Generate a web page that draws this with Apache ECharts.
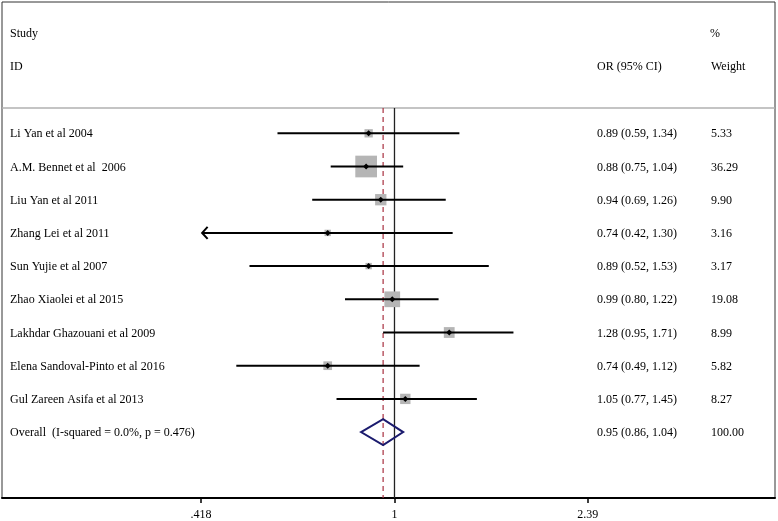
<!DOCTYPE html>
<html>
<head>
<meta charset="utf-8">
<script src="https://cdn.jsdelivr.net/npm/echarts@6/dist/echarts.min.js"></script>
<style>html,body{margin:0;padding:0;background:#fff}#chart{width:778px;height:521px}</style>
</head>
<body>
<div id="chart"></div>
<script>
const studies = [
  'Li Yan et al 2004',
  'A.M. Bennet et al  2006',
  'Liu Yan et al 2011',
  'Zhang Lei et al 2011',
  'Sun Yujie et al 2007',
  'Zhao Xiaolei et al 2015',
  'Lakhdar Ghazouani et al 2009',
  'Elena Sandoval-Pinto et al 2016',
  'Gul Zareen Asifa et al 2013'
];
const orValues = [0.89, 0.88, 0.94, 0.74, 0.89, 0.99, 1.28, 0.74, 1.05];
const ciLower  = [0.59, 0.75, 0.69, 0.42, 0.52, 0.80, 0.95, 0.49, 0.77];
const ciUpper  = [1.34, 1.04, 1.26, 1.30, 1.53, 1.22, 1.71, 1.12, 1.45];
const weights  = [5.33, 36.29, 9.90, 3.16, 3.17, 19.08, 8.99, 5.82, 8.27];
const overallLabel = 'Overall  (I-squared = 0.0%, p = 0.476)';
const overallOR = 0.95, overallLower = 0.86, overallUpper = 1.04, overallWeight = 100.00;
const tickValues = [0.418, 1, 2.39];
const tickLabels = ['.418', '1', '2.39'];
const displayMin = 0.42;
const headerStudy = 'Study', headerID = 'ID', headerOR = 'OR (95% CI)', headerPct = '%', headerWeight = 'Weight';

const FONT = '"Liberation Serif", "Times New Roman", serif';
const xMin = -1.770, xMax = 1.716;
const yMin = -3.955, yMax = 10.985;
const yRule = -0.76;
const LN = Math.log;

const rows = studies.map((s, i) => [i, orValues[i], ciLower[i], ciUpper[i], weights[i]]);
const fmt = v => v.toFixed(2);

const chart = echarts.init(document.getElementById('chart'));
chart.setOption({
  animation: false,
  grid: { left: 2, right: 3, top: 2, bottom: 23, show: true, borderColor: '#333', borderWidth: 1 },
  xAxis: {
    type: 'value', min: xMin, max: xMax,
    axisLine: { show: true, onZero: false, lineStyle: { color: '#000', width: 2 } },
    axisTick: { show: true, length: 5, customValues: tickValues.map(LN), lineStyle: { color: '#000', width: 1.5 } },
    axisLabel: {
      customValues: tickValues.map(LN), margin: 11, fontFamily: FONT, fontSize: 12, color: '#000',
      formatter: v => { const k = tickValues.findIndex(t => Math.abs(LN(t) - v) < 1e-6); return k >= 0 ? tickLabels[k] : ''; }
    },
    splitLine: { show: false }
  },
  yAxis: { type: 'value', inverse: true, min: yMin, max: yMax, show: false, splitLine: { show: false } },
  graphic: [
    { type: 'text', left: 10, top: 28, style: { text: headerStudy, font: '12px ' + FONT, fill: '#000' } },
    { type: 'text', left: 10, top: 61, style: { text: headerID, font: '12px ' + FONT, fill: '#000' } },
    { type: 'text', left: 597, top: 61, style: { text: headerOR, font: '12px ' + FONT, fill: '#000' } },
    { type: 'text', left: 710, top: 28, style: { text: headerPct, font: '12px ' + FONT, fill: '#000' } },
    { type: 'text', left: 711, top: 61, style: { text: headerWeight, font: '12px ' + FONT, fill: '#000' } }
  ],
  series: [
    {
      type: 'custom', z: 1, clip: false, data: [[LN(overallOR)]],
      renderItem: (params, api) => {
        const a = api.coord([xMin, yRule]), b = api.coord([xMax, yRule]);
        const n1 = api.coord([0, yRule]), n2 = api.coord([0, yMax]);
        const r1 = api.coord([api.value(0), yRule]), r2 = api.coord([api.value(0), yMax]);
        return { type: 'group', children: [
          { type: 'line', shape: { x1: a[0], y1: a[1], x2: b[0], y2: b[1] }, style: { stroke: '#b0b0b0', lineWidth: 1.5 } },
          { type: 'line', shape: { x1: n1[0], y1: n1[1], x2: n2[0], y2: n2[1] }, style: { stroke: '#222', lineWidth: 1.3 } },
          { type: 'line', shape: { x1: r1[0], y1: r1[1], x2: r2[0], y2: r2[1] }, style: { stroke: '#a8303f', lineWidth: 1.2, lineDash: [5, 4] } }
        ] };
      }
    },
    {
      type: 'custom', z: 3, clip: false, data: rows,
      renderItem: (params, api) => {
        const i = api.value(0), or = api.value(1), lo = api.value(2), hi = api.value(3), w = api.value(4);
        const c = api.coord([LN(or), i]);
        const pLo = api.coord([LN(lo), i]);
        const pHi = api.coord([LN(hi), i]);
        const side = 3.6 * Math.sqrt(w);
        const y = c[1];
        const children = [
          { type: 'rect', shape: { x: c[0] - side / 2, y: y - side / 2, width: side, height: side }, style: { fill: '#b5b5b5' } },
          { type: 'line', shape: { x1: pLo[0], y1: y, x2: pHi[0], y2: y }, style: { stroke: '#000', lineWidth: 2 } },
          { type: 'polygon', shape: { points: [[c[0] - 3, y], [c[0], y - 3], [c[0] + 3, y], [c[0], y + 3]] }, style: { fill: '#000' } },
          { type: 'text', x: 10, y: y + 1, style: { text: studies[i], font: '12px ' + FONT, fill: '#000', verticalAlign: 'middle' } },
          { type: 'text', x: 597, y: y + 1, style: { text: fmt(or) + ' (' + fmt(lo) + ', ' + fmt(hi) + ')', font: '12px ' + FONT, fill: '#000', verticalAlign: 'middle' } },
          { type: 'text', x: 711, y: y + 1, style: { text: fmt(w), font: '12px ' + FONT, fill: '#000', verticalAlign: 'middle' } }
        ];
        if (lo <= displayMin) {
          children.push({ type: 'polyline', shape: { points: [[pLo[0] + 5.5, y - 6], [pLo[0], y], [pLo[0] + 5.5, y + 6]] }, style: { stroke: '#000', lineWidth: 2, fill: null } });
        }
        return { type: 'group', children };
      }
    },
    {
      type: 'custom', z: 4, clip: false, data: [[studies.length, overallOR, overallLower, overallUpper, overallWeight]],
      renderItem: (params, api) => {
        const i = api.value(0), or = api.value(1), lo = api.value(2), hi = api.value(3), w = api.value(4);
        const c = api.coord([LN(or), i]);
        const pLo = api.coord([LN(lo), i]);
        const pHi = api.coord([LN(hi), i]);
        const y = c[1];
        return { type: 'group', children: [
          { type: 'polygon', shape: { points: [[pLo[0], y], [c[0], y - 13], [pHi[0], y], [c[0], y + 13]] }, style: { fill: 'rgba(255,255,255,0)', stroke: '#1b1b6e', lineWidth: 2 } },
          { type: 'text', x: 10, y: y + 1, style: { text: overallLabel, font: '12px ' + FONT, fill: '#000', verticalAlign: 'middle' } },
          { type: 'text', x: 597, y: y + 1, style: { text: fmt(or) + ' (' + fmt(lo) + ', ' + fmt(hi) + ')', font: '12px ' + FONT, fill: '#000', verticalAlign: 'middle' } },
          { type: 'text', x: 711, y: y + 1, style: { text: fmt(w), font: '12px ' + FONT, fill: '#000', verticalAlign: 'middle' } }
        ] };
      }
    }
  ]
});
</script>
</body>
</html>
